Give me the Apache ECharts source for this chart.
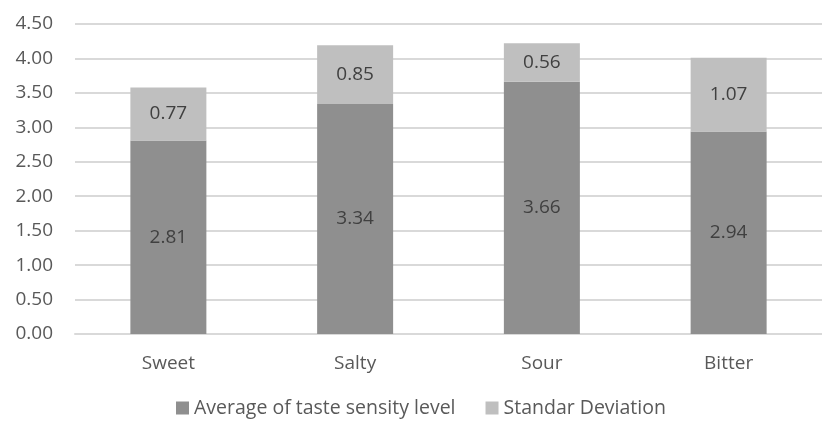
<!DOCTYPE html>
<html>
<head>
<meta charset="utf-8">
<script src="https://cdn.jsdelivr.net/npm/echarts@6/dist/echarts.min.js"></script>
<style>html,body{margin:0;padding:0;background:#fff}#c{width:822px;height:427px}</style>
</head>
<body>
<div id="c"></div>
<script>
var categories = ['Sweet', 'Salty', 'Sour', 'Bitter'];
var averageValues = [2.81, 3.34, 3.66, 2.94];
var stdValues = [0.77, 0.85, 0.56, 1.07];
var seriesNames = ['Average of taste sensity level', 'Standar Deviation'];

var FONT = 'Open Sans';
var chart = echarts.init(document.getElementById('c'), null, {renderer: 'canvas'});
chart.setOption({
  animation: false,
  backgroundColor: '#fff',
  textStyle: {fontFamily: FONT},
  grid: {left: 75, top: 24, width: 754, height: 310, containLabel: false},
  legend: {
    bottom: 4,
    left: 171,
    itemWidth: 13,
    itemHeight: 13,
    itemGap: 30,
    icon: 'rect',
    textStyle: {fontFamily: FONT, fontSize: 19.5, color: '#595959'},
    data: seriesNames
  },
  xAxis: {
    type: 'category',
    data: categories,
    axisLine: {lineStyle: {color: '#d9d9d9', width: 2}},
    axisTick: {show: false},
    axisLabel: {fontFamily: FONT, fontSize: 19, color: '#595959', margin: 20}
  },
  yAxis: {
    type: 'value',
    min: 0,
    max: 4.5,
    interval: 0.5,
    axisLine: {show: false},
    axisTick: {show: false},
    splitLine: {lineStyle: {color: '#d9d9d9', width: 2}},
    axisLabel: {
      fontFamily: FONT, fontSize: 19, color: '#595959', margin: 22,
      formatter: function (v) { return v.toFixed(2); }
    }
  },
  series: [
    {
      name: seriesNames[0],
      type: 'bar',
      stack: 'total',
      barWidth: 76,
      data: averageValues,
      itemStyle: {color: '#8f8f8f'},
      label: {show: true, position: 'inside', fontFamily: FONT, fontSize: 19, color: '#404040',
        formatter: function (p) { return p.value.toFixed(2); }}
    },
    {
      name: seriesNames[1],
      type: 'bar',
      stack: 'total',
      barWidth: 76,
      data: stdValues,
      itemStyle: {color: '#bfbfbf'},
      label: {show: true, position: 'inside', fontFamily: FONT, fontSize: 19, color: '#404040',
        formatter: function (p) { return p.value.toFixed(2); }}
    }
  ]
});
</script>
</body>
</html>
